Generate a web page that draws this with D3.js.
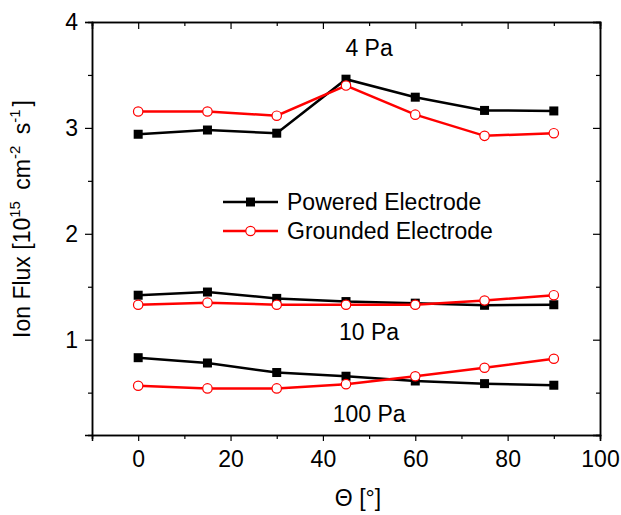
<!DOCTYPE html>
<html>
<head>
<meta charset="utf-8">
<script src="https://cdn.jsdelivr.net/npm/d3@7"></script>
<style>
  body { margin: 0; background: #fff; }
  svg { font-family: "Liberation Sans", Arial, sans-serif; }
</style>
</head>
<body>
<div id="chart-area"></div>
<script>
// angles (deg)
var angles = [0, 15, 30, 45, 60, 75, 90];

// ion flux, 10^15 cm^-2 s^-1
var powered4 = [2.94, 2.98, 2.95, 3.46, 3.29, 3.165, 3.16];
var grounded4 = [3.155, 3.155, 3.115, 3.40, 3.125, 2.925, 2.95];
var powered10 = [1.42, 1.45, 1.39, 1.36, 1.345, 1.325, 1.33];
var grounded10 = [1.33, 1.35, 1.33, 1.33, 1.33, 1.37, 1.42];
var powered100 = [0.83, 0.78, 0.69, 0.655, 0.61, 0.585, 0.57];
var grounded100 = [0.565, 0.54, 0.54, 0.58, 0.655, 0.735, 0.82];

var xTicks = [0, 20, 40, 60, 80, 100];
var xMinor = [-10, 10, 30, 50, 70, 90];
var yTicks = [1, 2, 3, 4];
var yMinor = [0.5, 1.5, 2.5, 3.5];

var margin = { left: 92, right: 21, top: 22, bottom: 80 };
var width = 621 - margin.left - margin.right,
    height = 515 - margin.top - margin.bottom;

var svg = d3.select("#chart-area")
    .append("svg")
        .attr("width", 621)
        .attr("height", 515);

var g = svg.append("g")
    .attr("transform", "translate(" + margin.left + "," + margin.top + ")");

var x = d3.scaleLinear().domain([-10, 100]).range([0, width]);
var y = d3.scaleLinear().domain([0.1, 4]).range([height, 0]);

// Axes (box with mirrored ticks)
g.append("g")
    .attr("transform", "translate(0," + height + ")")
    .call(d3.axisBottom(x).tickValues(xTicks).tickSize(6).tickPadding(10));
g.append("g")
    .attr("transform", "translate(0," + height + ")")
    .call(d3.axisBottom(x).tickValues(xMinor).tickSize(4).tickFormat(""));
g.append("g")
    .call(d3.axisTop(x).tickValues(xTicks).tickSize(-7).tickFormat(""));
g.append("g")
    .call(d3.axisTop(x).tickValues(xMinor).tickSize(-4).tickFormat(""));

g.append("g")
    .call(d3.axisLeft(y).tickValues(yTicks).tickSize(7).tickPadding(7).tickFormat(d3.format("d")));
g.append("g")
    .call(d3.axisLeft(y).tickValues(yMinor).tickSize(4).tickFormat(""));
g.append("g")
    .attr("transform", "translate(" + width + ",0)")
    .call(d3.axisRight(y).tickValues(yTicks).tickSize(-7).tickFormat(""));
g.append("g")
    .attr("transform", "translate(" + width + ",0)")
    .call(d3.axisRight(y).tickValues(yMinor).tickSize(-4).tickFormat(""));

g.selectAll(".domain").attr("stroke", "#000").attr("stroke-width", 1.5);
g.selectAll(".tick line").attr("stroke", "#000").attr("stroke-width", 1.2);
g.selectAll(".tick text")
    .attr("font-size", "23px")
    .attr("font-family", "Liberation Sans, Arial, sans-serif")
    .attr("fill", "#000");

// Series
var series = [
    { vals: powered4, kind: "p" }, { vals: grounded4, kind: "g" },
    { vals: powered10, kind: "p" }, { vals: grounded10, kind: "g" },
    { vals: powered100, kind: "p" }, { vals: grounded100, kind: "g" }
];

var line = d3.line()
    .x(function(d) { return x(d[0]); })
    .y(function(d) { return y(d[1]); });

series.forEach(function(s) {
    var pts = angles.map(function(a, i) { return [a, s.vals[i]]; });
    var col = s.kind == "p" ? "#000" : "#ff0000";
    g.append("path")
        .datum(pts)
        .attr("fill", "none")
        .attr("stroke", col)
        .attr("stroke-width", 2.5)
        .attr("d", line);
    if (s.kind == "p") {
        g.selectAll(null).data(pts).enter()
            .append("rect")
            .attr("x", function(d) { return x(d[0]) - 4.5; })
            .attr("y", function(d) { return y(d[1]) - 4.5; })
            .attr("width", 9)
            .attr("height", 9)
            .attr("fill", "#000");
    } else {
        g.selectAll(null).data(pts).enter()
            .append("circle")
            .attr("cx", function(d) { return x(d[0]); })
            .attr("cy", function(d) { return y(d[1]); })
            .attr("r", 4.7)
            .attr("fill", "#fff")
            .attr("stroke", "#ff0000")
            .attr("stroke-width", 1.2);
    }
});

// Pressure labels
var pressLabels = [["4 Pa", 50, 3.68], ["10 Pa", 50, 1.0], ["100 Pa", 50, 0.22]];
pressLabels.forEach(function(p) {
    g.append("text")
        .attr("x", x(p[1]))
        .attr("y", y(p[2]))
        .attr("text-anchor", "middle")
        .attr("font-size", "23px")
        .text(p[0]);
});

// Legend
var legend = svg.append("g").attr("transform", "translate(223,202)");
legend.append("line").attr("x1", 0).attr("x2", 55).attr("y1", 0).attr("y2", 0)
    .attr("stroke", "#000").attr("stroke-width", 2.5);
legend.append("rect").attr("x", 23).attr("y", -4.5).attr("width", 9).attr("height", 9).attr("fill", "#000");
legend.append("text").attr("x", 64).attr("y", 8).attr("font-size", "23px").text("Powered Electrode");
legend.append("line").attr("x1", 0).attr("x2", 55).attr("y1", 29).attr("y2", 29)
    .attr("stroke", "#ff0000").attr("stroke-width", 2.5);
legend.append("circle").attr("cx", 27.5).attr("cy", 29).attr("r", 4.7)
    .attr("fill", "#fff").attr("stroke", "#ff0000").attr("stroke-width", 1.2);
legend.append("text").attr("x", 64).attr("y", 37).attr("font-size", "23px").text("Grounded Electrode");

// X Label
svg.append("text")
    .attr("x", 358)
    .attr("y", 506)
    .attr("text-anchor", "middle")
    .attr("font-size", "23px")
    .text("\u0398 [\u00b0]");

// Y Label
var yl = svg.append("text")
    .attr("transform", "translate(30,219) rotate(-90)")
    .attr("text-anchor", "middle")
    .attr("font-size", "23px");
yl.append("tspan").text("Ion Flux [10");
yl.append("tspan").attr("dy", -10).attr("font-size", "15px").text("15");
yl.append("tspan").attr("dy", 10).attr("dx", 5).text(" cm");
yl.append("tspan").attr("dy", -10).attr("font-size", "15px").text("-2");
yl.append("tspan").attr("dy", 10).attr("dx", 5).text(" s");
yl.append("tspan").attr("dy", -10).attr("font-size", "15px").text("-1");
yl.append("tspan").attr("dy", 10).attr("dx", 3).text("]");
</script>
</body>
</html>
